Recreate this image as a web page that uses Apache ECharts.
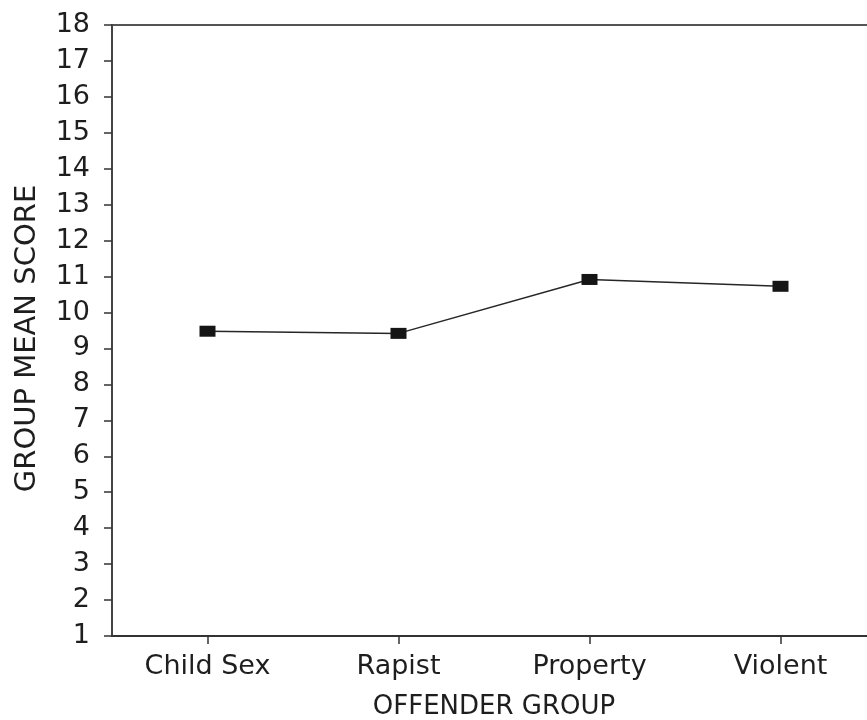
<!DOCTYPE html>
<html>
<head>
<meta charset="utf-8">
<script src="https://cdn.jsdelivr.net/npm/echarts@6/dist/echarts.min.js"></script>
<style>
  html, body { margin: 0; padding: 0; background: #fff; }
  #chart { width: 867px; height: 720px; }
</style>
</head>
<body>
<div id="chart"></div>
<script>
// Offender groups and their mean scores
const groups = ['Child Sex', 'Rapist', 'Property', 'Violent'];
const meanScores = [9.48, 9.42, 10.92, 10.73];
const yMin = 1;
const yMax = 18;

const FONT = 'DejaVu Sans';
const INK = '#1e1e1e';

const chart = echarts.init(document.getElementById('chart'));
chart.setOption({
  backgroundColor: '#ffffff',
  animation: false,
  grid: {
    left: 112,
    top: 25,
    bottom: 84,
    width: 764,
    outerBoundsMode: 'none',
    containLabel: false,
    show: true,
    borderColor: '#555',
    borderWidth: 2
  },
  xAxis: {
    type: 'category',
    data: groups,
    boundaryGap: true,
    name: 'OFFENDER GROUP',
    nameLocation: 'middle',
    nameGap: 58,
    nameTextStyle: { fontFamily: FONT, fontSize: 26, color: INK },
    axisLine: { show: true, lineStyle: { color: '#333', width: 2 } },
    axisTick: { show: true, alignWithLabel: true, length: 8, lineStyle: { color: '#333', width: 1.5 } },
    axisLabel: { fontFamily: FONT, fontSize: 27, color: INK, margin: 17 },
    splitLine: { show: false }
  },
  yAxis: {
    type: 'value',
    min: yMin,
    max: yMax,
    interval: 1,
    name: 'GROUP MEAN SCORE',
    nameLocation: 'middle',
    nameGap: 70,
    nameRotate: 90,
    nameTextStyle: { fontFamily: FONT, fontSize: 29, color: INK, padding: [0, 16, 0, 0] },
    axisLine: { show: true, lineStyle: { color: '#444', width: 2 } },
    axisTick: { show: true, length: 8, lineStyle: { color: '#333', width: 1.5 } },
    axisLabel: { fontFamily: FONT, fontSize: 27, color: INK, margin: 22 },
    splitLine: { show: false }
  },
  series: [{
    type: 'line',
    data: meanScores,
    symbol: 'rect',
    symbolSize: [16, 11],
    itemStyle: { color: '#151515' },
    lineStyle: { color: '#262626', width: 1.5 }
  }]
});
</script>
</body>
</html>
